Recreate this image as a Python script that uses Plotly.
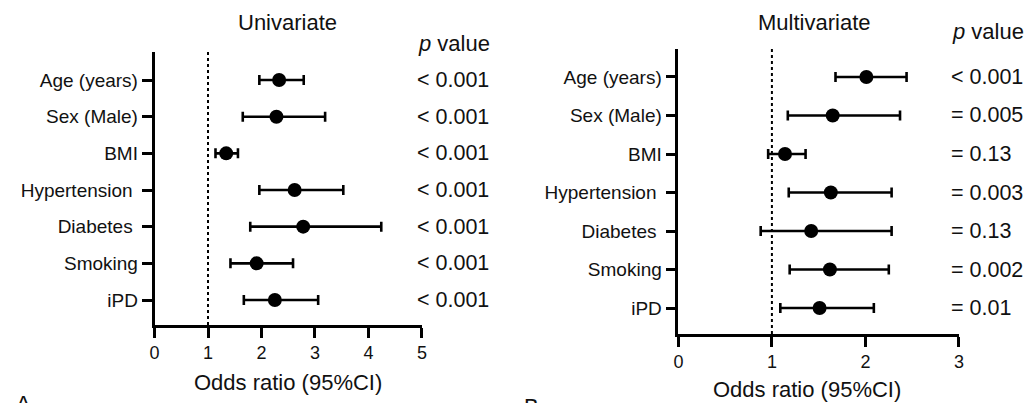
import plotly.graph_objects as go

W, H = 1029, 403

categories = ["Age (years)", "Sex (Male)", "BMI", "Hypertension ", "Diabetes ", "Smoking", "iPD"]

uni_or = [2.33, 2.28, 1.34, 2.62, 2.78, 1.91, 2.25]
uni_lo = [1.96, 1.65, 1.14, 1.96, 1.79, 1.42, 1.67]
uni_hi = [2.79, 3.19, 1.56, 3.53, 4.24, 2.59, 3.06]
uni_p = ["< 0.001"] * 7

multi_or = [2.01, 1.65, 1.14, 1.63, 1.42, 1.62, 1.51]
multi_lo = [1.68, 1.17, 0.96, 1.18, 0.88, 1.19, 1.09]
multi_hi = [2.44, 2.37, 1.36, 2.28, 2.28, 2.25, 2.09]
multi_p = ["< 0.001", "= 0.005", "= 0.13", "= 0.003", "= 0.13", "= 0.002", "= 0.01"]

uni_ticks = [0, 1, 2, 3, 4, 5]
multi_ticks = [0, 1, 2, 3]

ypos = [7, 6, 5, 4, 3, 2, 1]

FONT = "Liberation Sans, Arial, sans-serif"
INK = "#111111"
fs_ylab = 19
fs_xtick = 18
fs_p = 21.5
fs_title = 22

def px_x(p):
    return p / W

def px_y(p):
    return (H - p) / H

fig = go.Figure()

def add_panel(or_, lo, hi, xa, ya):
    fig.add_trace(go.Scatter(
        x=or_, y=ypos, mode="markers",
        marker=dict(size=14, color="black"),
        error_x=dict(type="data", symmetric=False,
                     array=[h - o for h, o in zip(hi, or_)],
                     arrayminus=[o - l for o, l in zip(or_, lo)],
                     thickness=2.6, width=5, color="black"),
        xaxis=xa, yaxis=ya, showlegend=False, hoverinfo="skip"))

add_panel(uni_or, uni_lo, uni_hi, "x", "y")
add_panel(multi_or, multi_lo, multi_hi, "x2", "y2")

axis_common = dict(showline=True, linewidth=2.6, linecolor="black", ticks="outside",
                   ticklen=10, tickwidth=2.6, tickcolor="black", showgrid=False,
                   zeroline=False)
xfont = dict(family=FONT, size=fs_xtick, color=INK)
yfont = dict(family=FONT, size=fs_ylab, color=INK)

fig.update_layout(
    width=W, height=H, margin=dict(l=0, r=0, t=0, b=0),
    paper_bgcolor="white", plot_bgcolor="white",
    font=dict(family=FONT, size=fs_p, color=INK),
    xaxis=dict(domain=[px_x(151), px_x(421)], range=[0, 5], tickvals=uni_ticks,
               anchor="y", tickfont=xfont, **axis_common),
    yaxis=dict(domain=[px_y(325), px_y(52)], range=[0.318, 7.764], tickvals=ypos,
               ticktext=categories, anchor="x", tickfont=yfont, **axis_common),
    xaxis2=dict(domain=[px_x(680), px_x(963.3)], range=[0, 3], tickvals=multi_ticks,
                anchor="y2", tickfont=xfont, **axis_common),
    yaxis2=dict(domain=[px_y(334), px_y(49)], range=[0.325, 7.727], tickvals=ypos,
                ticktext=categories, anchor="x2", tickfont=yfont, **axis_common),
)

# reference lines at OR = 1
fig.add_shape(type="line", xref="x", yref="y domain", x0=1, x1=1, y0=0, y1=1,
              line=dict(color="black", width=2, dash="dot"))
fig.add_shape(type="line", xref="x2", yref="y2 domain", x0=1, x1=1, y0=0, y1=1,
              line=dict(color="black", width=2, dash="dot"))

ann = []
# p values
for yv, p in zip(ypos, uni_p):
    ann.append(dict(x=px_x(414), xref="paper", y=yv, yref="y", text=p, showarrow=False,
                    xanchor="left", yanchor="middle", font=dict(size=fs_p)))
for yv, p in zip(ypos, multi_p):
    ann.append(dict(x=px_x(953), xref="paper", y=yv, yref="y2", text=p, showarrow=False,
                    xanchor="left", yanchor="middle", font=dict(size=fs_p)))
ann += [
    dict(x=px_x(453), y=px_y(43), text="<i>p</i> value", xref="paper", yref="paper",
         showarrow=False, xanchor="center", yanchor="middle", font=dict(size=fs_title)),
    dict(x=px_x(993), y=px_y(32), text="<i>p</i> value", xref="paper", yref="paper",
         showarrow=False, xanchor="center", yanchor="middle", font=dict(size=fs_title)),
    dict(x=px_x(285), y=px_y(23), text="Univariate", xref="paper", yref="paper",
         showarrow=False, xanchor="center", yanchor="middle", font=dict(size=fs_title)),
    dict(x=px_x(817), y=px_y(23), text="Multivariate", xref="paper", yref="paper",
         showarrow=False, xanchor="center", yanchor="middle", font=dict(size=fs_title)),
    dict(x=px_x(286), y=px_y(382), text="Odds ratio (95%CI)", xref="paper", yref="paper",
         showarrow=False, xanchor="center", yanchor="middle", font=dict(size=fs_title)),
    dict(x=px_x(810), y=px_y(389), text="Odds ratio (95%CI)", xref="paper", yref="paper",
         showarrow=False, xanchor="center", yanchor="middle", font=dict(size=fs_title)),
    dict(x=px_x(9), y=px_y(389), text="A", xref="paper", yref="paper",
         showarrow=False, xanchor="left", yanchor="top", font=dict(size=22)),
    dict(x=px_x(522), y=px_y(392), text="B", xref="paper", yref="paper",
         showarrow=False, xanchor="left", yanchor="top", font=dict(size=22)),
]
fig.update_layout(annotations=ann)

fig.write_html("out.html", config={"displayModeBar": False},
               post_script="document.body.style.margin='0';document.body.style.overflow='hidden';")
